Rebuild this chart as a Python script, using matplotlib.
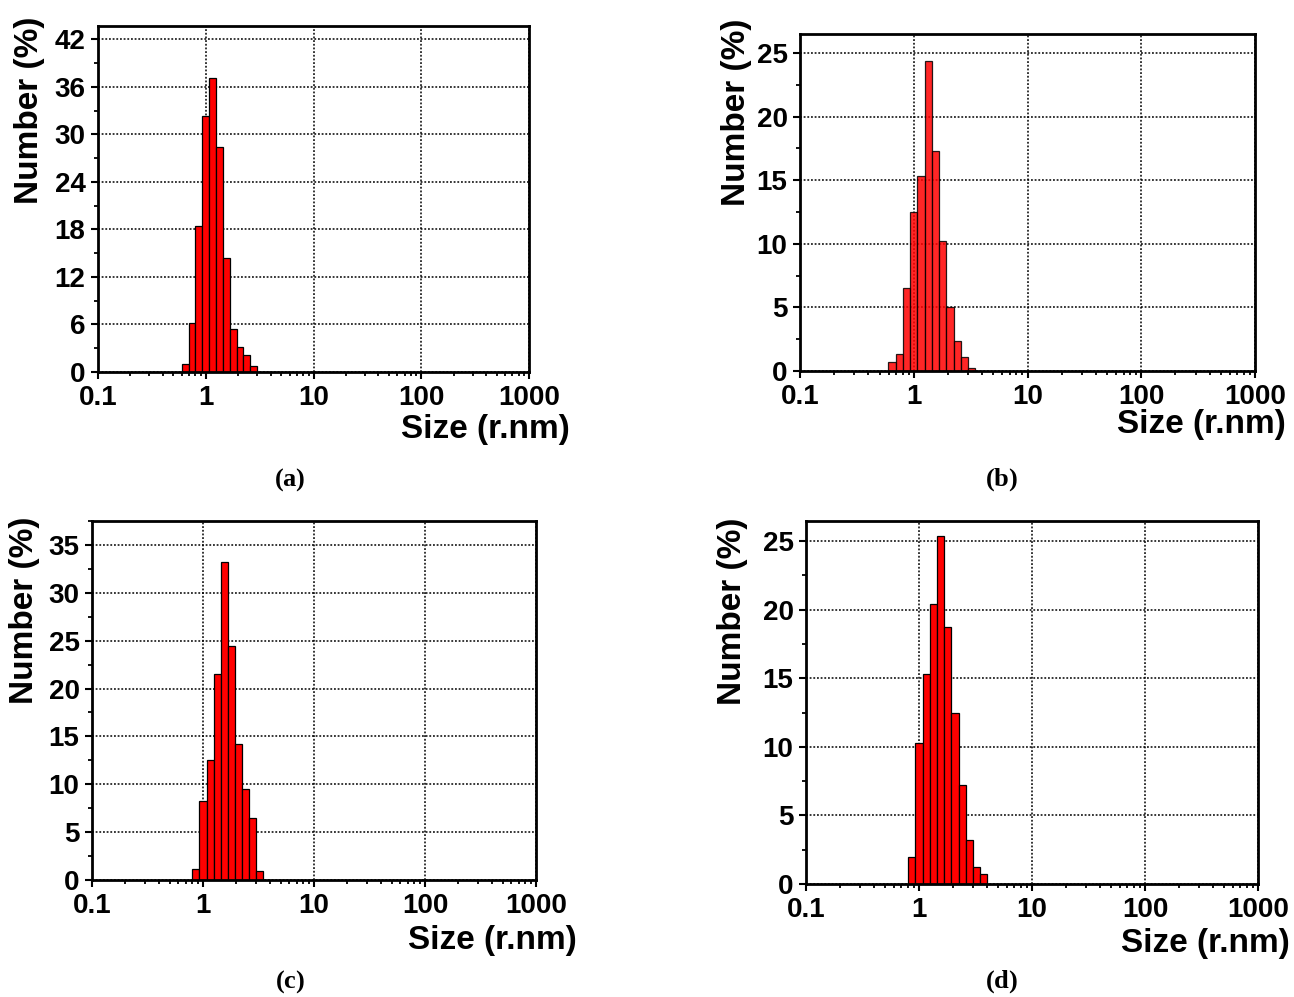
import numpy as np
import matplotlib
matplotlib.use('Agg')
import matplotlib.pyplot as plt
from matplotlib.ticker import LogLocator, NullFormatter, AutoMinorLocator

plt.rcParams['font.family'] = ['Liberation Sans', 'DejaVu Sans']
plt.rcParams['font.weight'] = 'bold'
plt.rcParams['mathtext.fontset'] = 'custom'
plt.rcParams['mathtext.rm'] = 'Liberation Serif'
plt.rcParams['mathtext.bf'] = 'Liberation Serif:bold'

# tamaños (radio, nm) en el centro de cada clase y su porcentaje en número
size_a = [0.644, 0.746, 0.864, 1.0, 1.158, 1.340, 1.552, 1.797, 2.080, 2.408, 2.788]
num_a = [1.05, 6.2, 18.4, 32.3, 37.1, 28.4, 14.4, 5.4, 3.2, 2.1, 0.7]

size_b = [0.644, 0.746, 0.864, 1.0, 1.158, 1.340, 1.552, 1.797, 2.080, 2.408, 2.788, 3.228]
num_b = [0.68, 1.33, 6.5, 12.5, 15.3, 24.4, 17.3, 10.2, 5.0, 2.35, 1.07, 0.2]

size_c = [0.864, 1.0, 1.158, 1.340, 1.552, 1.797, 2.080, 2.408, 2.788, 3.228]
num_c = [1.12, 8.25, 12.5, 21.5, 33.2, 24.4, 14.2, 9.47, 6.5, 0.91]

size_d = [0.864, 1.0, 1.158, 1.340, 1.552, 1.797, 2.080, 2.408, 2.788, 3.228, 3.738]
num_d = [1.99, 10.3, 15.3, 20.4, 25.4, 18.75, 12.5, 7.24, 3.23, 1.24, 0.75]

razon = 10 ** 0.0636  # ancho de clase en escala log

paneles = [
    # (tamaños, números, yticks, ylim, posición, alpha, pos ylabel, pos xlabel)
    (size_a, num_a, [0, 6, 12, 18, 24, 30, 36, 42], 43.7, [98, 26, 529, 372], 1.0, (30, 110), (570, 429)),
    (size_b, num_b, [0, 5, 10, 15, 20, 25], 26.5, [800, 34, 1255, 371], 0.85, (737, 112), (1286, 424)),
    (size_c, num_c, [0, 5, 10, 15, 20, 25, 30, 35], 37.5, [92, 521, 536, 880], 1.0, (25, 610), (577, 940)),
    (size_d, num_d, [0, 5, 10, 15, 20, 25], 26.46, [806, 521, 1258, 884], 1.0, (733, 611), (1290, 943)),
]

W, H = 1294, 997
fig = plt.figure(figsize=(W / 100, H / 100), dpi=100)

for tam, num, yt, ymax, (x0, y0, x1, y1), alpha, ylab, xlab in paneles:
    ax = fig.add_axes([x0 / W, 1 - y1 / H, (x1 - x0) / W, (y1 - y0) / H])
    tam = np.array(tam)
    izq = tam / np.sqrt(razon)
    der = tam * np.sqrt(razon)
    ax.bar(izq, num, width=der - izq, align='edge', color='red', alpha=alpha,
           edgecolor='black', linewidth=0.9, zorder=3)
    ax.set_xscale('log')
    ax.set_xlim(0.1, 1000)
    ax.set_ylim(0, ymax)
    ax.set_xticks([0.1, 1, 10, 100, 1000])
    ax.set_xticklabels(['0.1', '1', '10', '100', '1000'])
    ax.xaxis.set_minor_locator(LogLocator(base=10, subs=np.arange(2, 10)))
    ax.xaxis.set_minor_formatter(NullFormatter())
    ax.set_yticks(yt)
    ax.yaxis.set_minor_locator(AutoMinorLocator(2))
    ax.grid(True, which='major', color='black', linestyle=(0, (1.2, 1.2)), linewidth=1.1, zorder=1)
    ax.set_axisbelow(True)
    for s in ax.spines.values():
        s.set_linewidth(2)
        s.set_zorder(4)
    ax.tick_params(which='major', direction='out', length=5, width=1.5, labelsize=20, pad=4)
    ax.tick_params(which='minor', direction='out', length=3, width=1.3)
    for lbl in ax.get_xticklabels() + ax.get_yticklabels():
        lbl.set_fontweight('bold')
    fig.text(ylab[0] / W, 1 - ylab[1] / H, 'Number (%)', rotation=90, ha='center', va='center',
             fontsize=24, fontweight='bold')
    fig.text(xlab[0] / W, 1 - xlab[1] / H, 'Size (r.nm)', ha='right', va='center',
             fontsize=24, fontweight='bold')

for letra, (cx, cy) in zip('abcd', [(290, 480), (1002, 480), (290, 982), (1002, 982)]):
    fig.text(cx / W, 1 - cy / H, r'$\mathrm{(}\mathbf{' + letra + r'}\mathrm{)}$',
             ha='center', va='center', fontsize=19)

fig.savefig('out.png', dpi=100)
